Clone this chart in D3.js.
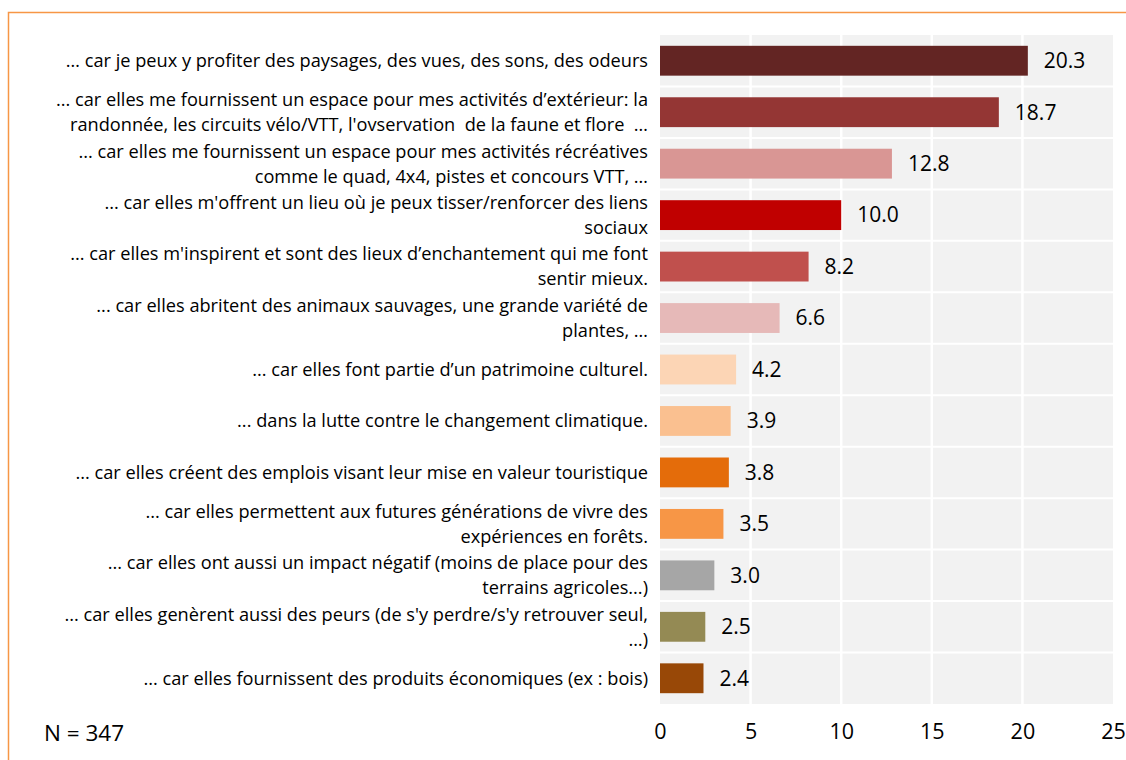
<!DOCTYPE html>
<html>
<head>
<meta charset="utf-8">
<script src="https://cdn.jsdelivr.net/npm/d3@7"></script>
<style>
  body { margin: 0; background: #fff; }
  svg { display: block; font-family: "Open Sans", sans-serif; }
  .cat text { white-space: pre; }
</style>
</head>
<body>
<svg id="chart" width="1126" height="760"></svg>
<script>
// libellés (une ligne par entrée du tableau)
const categories = [
  ["… car je peux y profiter des paysages, des vues, des sons, des odeurs"],
  ["... car elles me fournissent un espace pour mes activités d’extérieur: la", "randonnée, les circuits vélo/VTT, l'ovservation  de la faune et flore  …"],
  ["... car elles me fournissent un espace pour mes activités récréatives", "comme le quad, 4x4, pistes et concours VTT, …"],
  ["... car elles m'offrent un lieu où je peux tisser/renforcer des liens", "sociaux"],
  ["... car elles m'inspirent et sont des lieux d’enchantement qui me font", "sentir mieux."],
  ["... car elles abritent des animaux sauvages, une grande variété de", "plantes, …"],
  ["... car elles font partie d’un patrimoine culturel."],
  ["... dans la lutte contre le changement climatique."],
  ["... car elles créent des emplois visant leur mise en valeur touristique"],
  ["... car elles permettent aux futures générations de vivre des", "expériences en forêts."],
  ["... car elles ont aussi un impact négatif (moins de place pour des", "terrains agricoles...)"],
  ["... car elles genèrent aussi des peurs (de s'y perdre/s'y retrouver seul,", "…)"],
  ["... car elles fournissent des produits économiques (ex : bois)"]
];
const values = [20.3, 18.7, 12.8, 10.0, 8.2, 6.6, 4.2, 3.9, 3.8, 3.5, 3.0, 2.5, 2.4];
const colors = ["#632523", "#943634", "#d99694", "#c00000", "#c0504d", "#e6b9b8", "#fcd5b5",
                "#fac090", "#e46c0a", "#f79646", "#a6a6a6", "#948a54", "#984807"];
const ticks = [0, 5, 10, 15, 20, 25];
const note = "N = 347";

const svg = d3.select("#chart");

// cadre orange
svg.append("rect")
  .attr("x", 8.5).attr("y", 12.5)
  .attr("width", 1130).attr("height", 760)
  .attr("fill", "none").attr("stroke", "#f79646").attr("stroke-width", 1.5);

const plot = { left: 660, right: 1113, top: 35, bottom: 704 };

const x = d3.scaleLinear().domain([0, 25]).range([plot.left, plot.right]);
const y = d3.scaleBand()
  .domain(d3.range(values.length))
  .range([plot.top, plot.bottom])
  .paddingInner(0.42).paddingOuter(0.21);

// fond gris + quadrillage blanc
svg.append("rect")
  .attr("x", plot.left).attr("y", plot.top)
  .attr("width", plot.right - plot.left).attr("height", plot.bottom - plot.top)
  .attr("fill", "#f2f2f2");

const step = (plot.bottom - plot.top) / values.length;
svg.append("g").selectAll("line")
  .data(d3.range(1, values.length))
  .join("line")
  .attr("x1", plot.left).attr("x2", plot.right)
  .attr("y1", d => plot.top + d * step).attr("y2", d => plot.top + d * step)
  .attr("stroke", "#fff").attr("stroke-width", 2);

svg.append("g").selectAll("line")
  .data(ticks.slice(1, -1))
  .join("line")
  .attr("x1", d => x(d)).attr("x2", d => x(d))
  .attr("y1", plot.top).attr("y2", plot.bottom)
  .attr("stroke", "#fff").attr("stroke-width", 2.5);

// barres
svg.append("g").selectAll("rect")
  .data(values)
  .join("rect")
  .attr("x", x(0))
  .attr("y", (d, i) => y(i))
  .attr("width", d => x(d) - x(0))
  .attr("height", y.bandwidth())
  .attr("fill", (d, i) => colors[i]);

// valeurs
svg.append("g").selectAll("text")
  .data(values)
  .join("text")
  .attr("x", d => x(d) + 16)
  .attr("y", (d, i) => y(i) + y.bandwidth() / 2)
  .attr("dy", "0.35em")
  .attr("font-size", 21)
  .attr("fill", "#000")
  .text(d => d.toFixed(1));

// libellés des catégories
const lineH = 25;
const labels = svg.append("g")
  .attr("class", "cat")
  .attr("font-size", 18.2)
  .attr("fill", "#000")
  .attr("text-anchor", "end");

categories.forEach((lines, i) => {
  const cy = y(i) + y.bandwidth() / 2;
  const t = labels.append("text").attr("x", 648);
  lines.forEach((l, j) => {
    t.append("tspan")
      .attr("x", 648)
      .attr("y", cy + (j - (lines.length - 1) / 2) * lineH)
      .attr("dy", "0.35em")
      .text(l);
  });
});

// axe x
const axis = svg.append("g")
  .attr("transform", `translate(0,${plot.bottom})`)
  .call(d3.axisBottom(x).tickValues(ticks).tickSize(0).tickPadding(20));
axis.select(".domain").remove();
axis.selectAll("text")
  .attr("font-family", "Open Sans, sans-serif")
  .attr("font-size", 21.5)
  .attr("fill", "#000");

svg.append("text")
  .attr("x", 44).attr("y", 733)
  .attr("dy", "0.35em")
  .attr("font-size", 22.5)
  .attr("fill", "#000")
  .text(note);
</script>
</body>
</html>
